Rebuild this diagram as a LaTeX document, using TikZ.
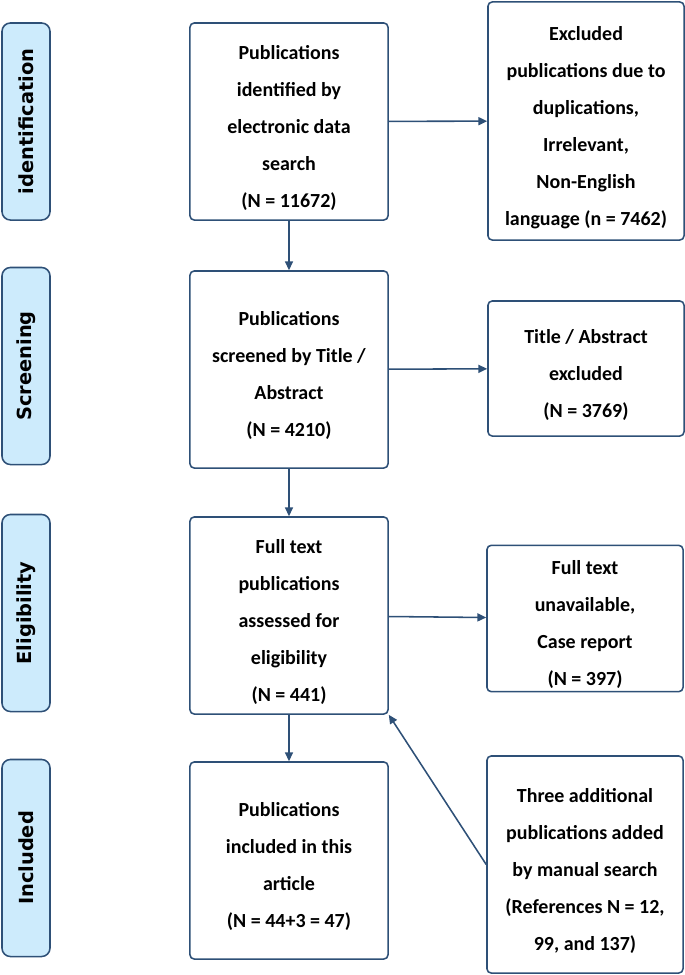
\documentclass[tikz,border=0pt]{standalone}
\usepackage{fontspec}
\setmainfont{Carlito}
\newfontfamily\stagefont{DejaVu Sans}
\usepackage{tikz}
\usetikzlibrary{arrows.meta}
\definecolor{PrismaBlue}{HTML}{2E5077}
\definecolor{PrismaSky}{HTML}{CDEBFC}
\newcommand{\boxgap}{\rule{0pt}{19pt}}

\begin{document}
\begin{tikzpicture}[
    x=0.025cm, y=-0.025cm,
    box/.style={draw=PrismaBlue, line width=1.1pt, rounded corners=3pt, fill=white, align=center, inner sep=2pt,
                font=\fontsize{14.2}{26.3}\selectfont\bfseries},
    midbox/.style={box, minimum width=4.95cm, minimum height=4.925cm},
    sidebox/.style={box, minimum width=4.9cm},
    stagebox/.style={draw=PrismaBlue, line width=1.1pt, rounded corners=6pt, fill=PrismaSky, rotate=90,
                minimum width=4.925cm, minimum height=1.2cm, font=\stagefont\fontsize{13.8}{15}\selectfont\bfseries},
    arr/.style={-{Triangle[length=2.2mm, width=2mm]}, line width=1.1pt, PrismaBlue},
]
\useasboundingbox (0,0) rectangle (685,975);

% --- Stage labels (left column) ---
\node[stagebox] at (26, 121.5) (sident) {identification};
\node[stagebox] at (26, 366)   (sscreen) {Screening};
\node[stagebox] at (26, 613)   (selig)  {Eligibility};
\node[stagebox] at (26, 858)   (sincl)  {Included};

% --- Main flow (middle column) ---
\node[midbox] at (289, 121.5) (found)   {\boxgap Publications\\identified by\\electronic data\\search\\(N = 11672)};
\node[midbox] at (289, 369.5) (screen)  {\boxgap Publications\\screened by Title /\\Abstract\\(N = 4210)};
\node[midbox] at (289, 615.5) (assess)  {\boxgap Full text\\publications\\assessed for\\eligibility\\(N = 441)};
\node[midbox] at (289, 860.5) (incl)    {\boxgap Publications\\included in this\\article\\(N = 44+3 = 47)};

% --- Exclusions and additions (right column) ---
\node[sidebox, minimum height=5.95cm]  at (586, 121)   (dupl)   {\boxgap Excluded\\publications due to\\duplications,\\Irrelevant,\\Non-English\\language (n = 7462)};
\node[sidebox, minimum height=3.375cm] at (586, 368.5) (absex)  {\boxgap Title / Abstract\\excluded\\(N = 3769)};
\node[sidebox, minimum height=3.525cm] at (585, 618.5) (fullex) {\boxgap Full text\\unavailable,\\Case report\\(N = 397)};
\node[sidebox, minimum height=5.425cm] at (585, 864.5) (manual) {\boxgap Three additional\\publications added\\by manual search\\(References N = 12,\\99, and 137)};

% --- Nominal flow (vertical) ---
\draw[arr] (found)  -- (screen);
\draw[arr] (screen) -- (assess);
\draw[arr] (assess) -- (incl);

% --- Exclusions (horizontal) ---
\draw[arr] (found)  -- (dupl);
\draw[arr] (screen) -- (absex);
\draw[arr] (assess) -- (fullex);

% --- Manual search added back ---
\draw[arr] (manual.west) -- (assess.south east);

\end{tikzpicture}
\end{document}
